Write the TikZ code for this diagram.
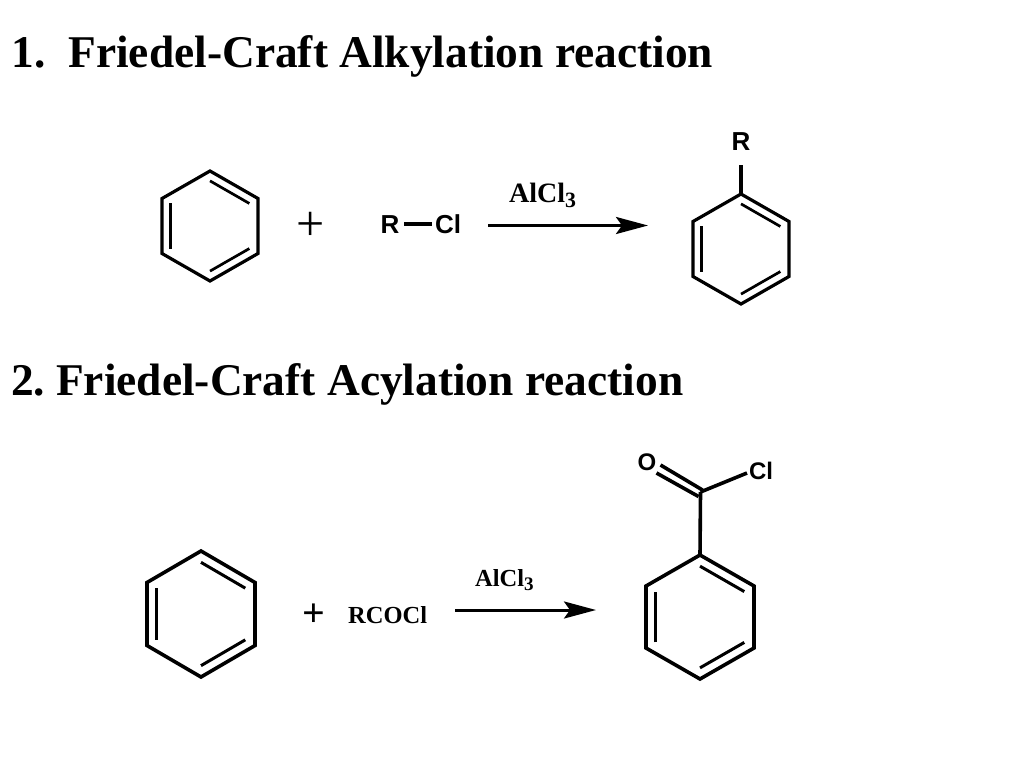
\documentclass[tikz,border=0pt]{standalone}
\usepackage{fontspec}
\setmainfont{Liberation Serif}
\newfontfamily\labelfont{Liberation Sans}
\usetikzlibrary{arrows.meta,calc}

\tikzset{
  title/.style = {anchor=base west, inner sep=0pt, font=\fontsize{45.4}{45.4}\selectfont\bfseries},
  atom/.style = {anchor=base, inner sep=0pt, font=\fontsize{26}{26}\selectfont\labelfont\bfseries},
  atomsmall/.style = {anchor=base, inner sep=0pt, font=\fontsize{24}{24}\selectfont\labelfont\bfseries},
  reagent/.style = {anchor=base west, inner sep=0pt, font=\fontsize{28}{28}\selectfont\bfseries},
  bond/.style = {line width=3.2pt, line join=miter},
  innerbond/.style = {line width=2.7pt},
  rxn/.style = {line width=3pt, -{Stealth[length=32pt,width=17pt,inset=6pt]}},
}

\newcommand{\subthree}{\raisebox{-.2em}{\scalebox{.78}{3}}}

% ring: name, centre x, centre y, half width, half height
\newcommand{\benzene}[5]{
  \coordinate (#1c) at (#2,#3);
  \coordinate (#11) at (#2,#3-#5);
  \coordinate (#12) at (#2+#4,#3-#5/2);
  \coordinate (#13) at (#2+#4,#3+#5/2);
  \coordinate (#14) at (#2,#3+#5);
  \coordinate (#15) at (#2-#4,#3+#5/2);
  \coordinate (#16) at (#2-#4,#3-#5/2);
  \draw[bond] (#11) -- (#12) -- (#13) -- (#14) -- (#15) -- (#16) -- cycle;
  \draw[innerbond] ($(#1c)!.82!(#11)$) -- ($(#1c)!.82!(#12)$);
  \draw[innerbond] ($(#1c)!.82!(#13)$) -- ($(#1c)!.82!(#14)$);
  \draw[innerbond] ($(#1c)!.82!(#15)$) -- ($(#1c)!.82!(#16)$);
}

\begin{document}
\begin{tikzpicture}[x=1pt, y=-1pt]
\useasboundingbox (0,0) rectangle (1024,768);

\node[title] (alkyl) at (11.5,67) {1.\ \ Friedel-Craft Alkylation reaction};
\node[title] (acyl) at (11,395) {2.\hspace{11pt}Friedel-Craft Acylation reaction};

% first reaction
\benzene{a}{210}{226}{48}{55}
\node[font=\fontsize{50}{50}\selectfont] (plusa) at (311,226) {+};
\node[atom] (r) at (390,233) {R};
\node[atom] (cl) at (448,233) {Cl};
\coordinate (rb) at (404,224);
\coordinate (clb) at (432,224);
\draw[bond] (rb) -- (clb);
\node[reagent] (alcla) at (509,202) {AlCl\subthree};
\coordinate (sa) at (488,225.5);
\coordinate (ea) at (648,225.5);
\draw[rxn] (sa) -- (ea);
\benzene{b}{741}{249}{48}{55}
\node[atom] (rtop) at (741,150.5) {R};
\coordinate (rb2) at (741,165);
\draw[bond] (b1) -- (rb2);

% second reaction
\begin{scope}[bond/.append style={line width=3.6pt}, innerbond/.append style={line width=3pt}]
\benzene{d}{201}{614}{54}{63}
\benzene{e}{700}{617}{54}{62}
\coordinate (co) at (700.5,492);
\coordinate (oa) at (660.5,465);
\coordinate (ob) at (656.5,473);
\coordinate (clc) at (747,473);
\draw[bond] (e1) -- (co);
\draw[bond] (co) -- (clc);
\draw[bond] ($(co)+(2,-2)$) -- (oa);
\draw[bond] ($(co)+(-2,4.5)$) -- (ob);
\end{scope}
\node[font=\fontsize{40}{40}\selectfont\bfseries] (plusb) at (314,615) {+};
\node[reagent, font=\fontsize{24.5}{24.5}\selectfont\bfseries] (rcocl) at (348,623) {RCOCl};
\node[reagent, font=\fontsize{24.5}{24.5}\selectfont\bfseries] (alclb) at (475,586) {AlCl\subthree};
\coordinate (sb) at (455,610);
\coordinate (eb) at (596,610);
\draw[rxn] (sb) -- (eb);
\node[atomsmall] (oxy) at (647,470.5) {O};
\node[atomsmall] (clb2) at (761,479) {Cl};
\end{tikzpicture}
\end{document}
